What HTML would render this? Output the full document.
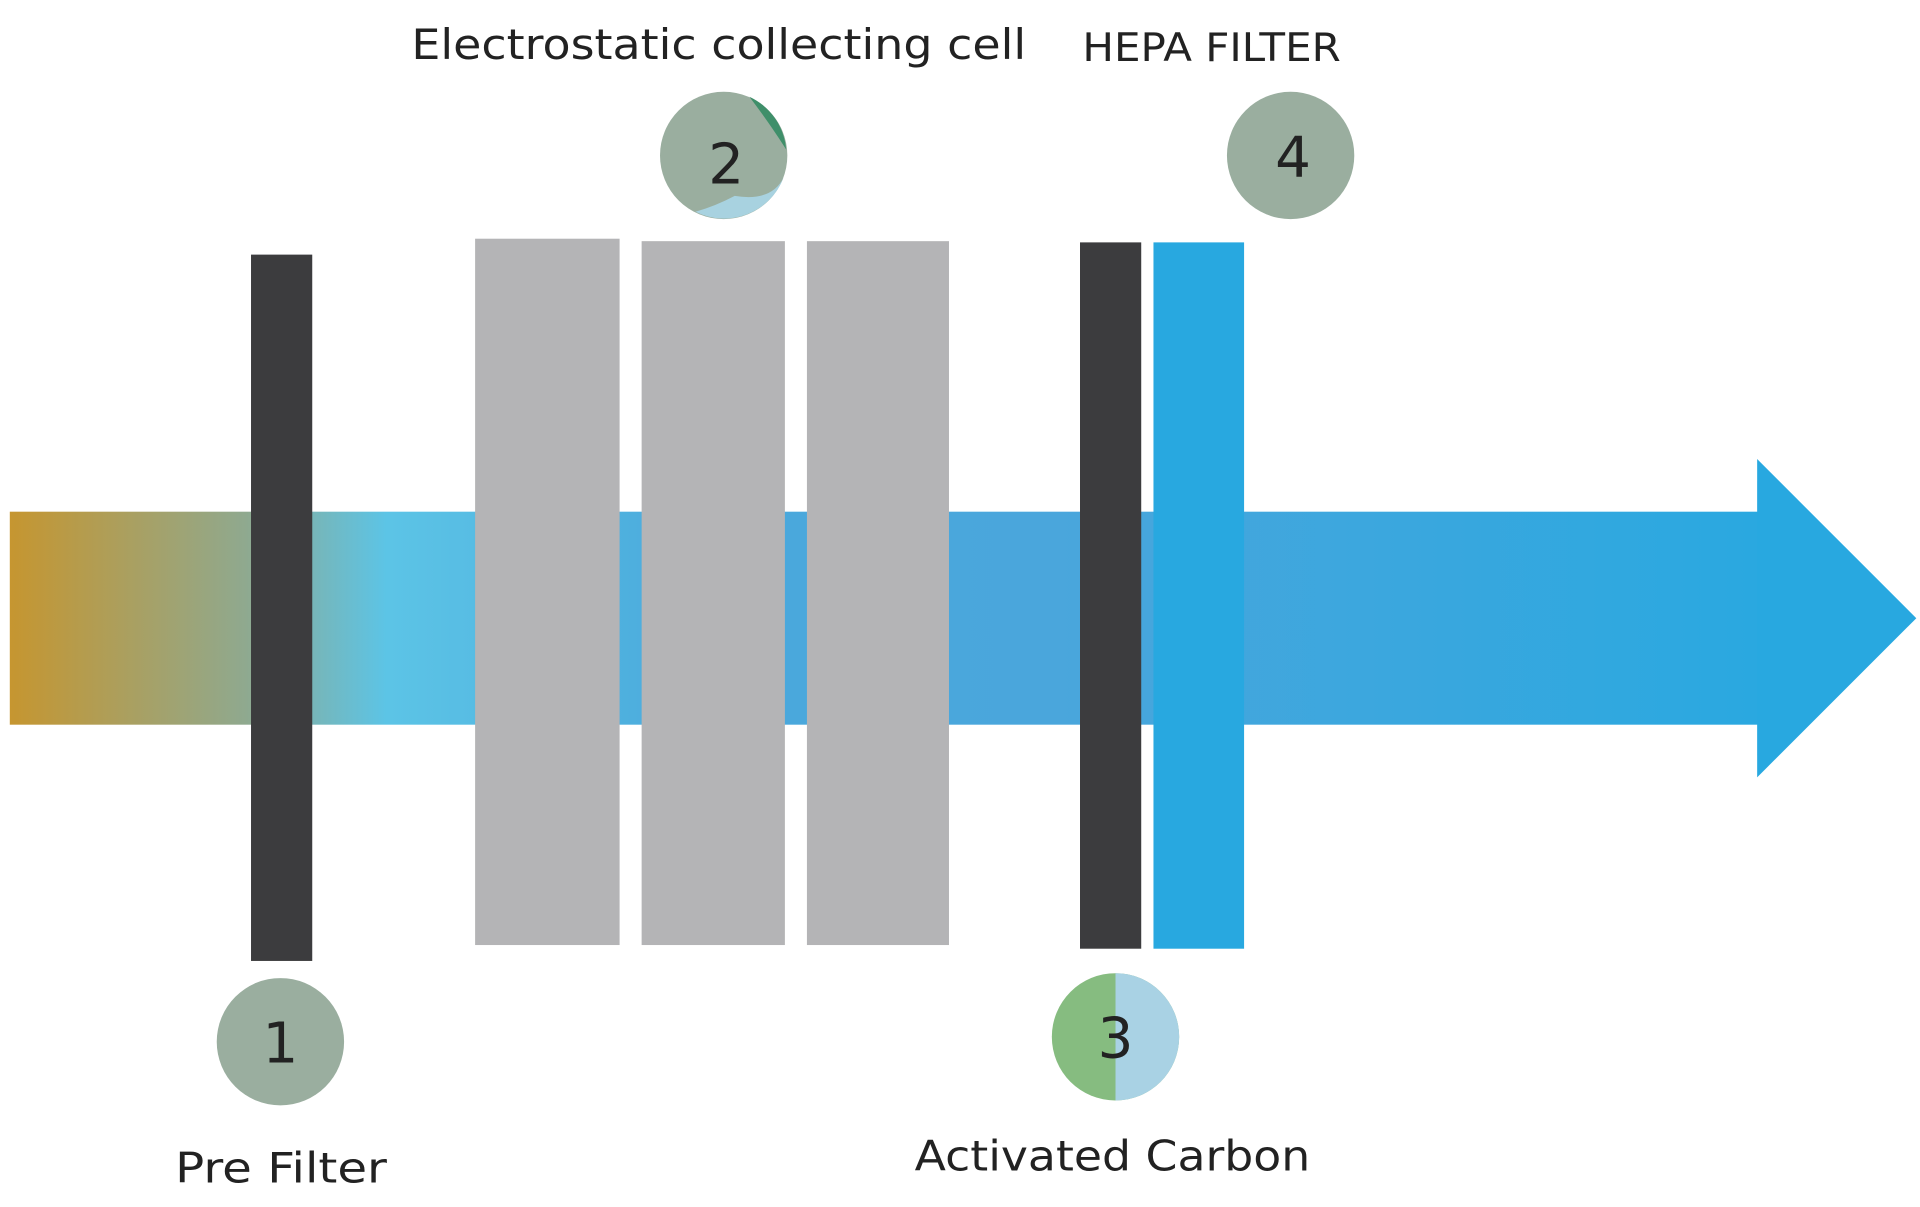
<!DOCTYPE html>
<html><head><meta charset="utf-8"><style>
html,body{margin:0;padding:0;background:#fff;}
svg{display:block;}
text{font-family:"DejaVu Sans","Liberation Sans",sans-serif;fill:#222;}
</style></head><body>
<svg width="1920" height="1207" viewBox="0 0 1568 986" preserveAspectRatio="none">
<defs>
<linearGradient id="band" x1="0" x2="1435" gradientUnits="userSpaceOnUse">
<stop offset="0" stop-color="#c8952c"/>
<stop offset="0.14" stop-color="#8fa98f"/>
<stop offset="0.22" stop-color="#5cc4e6"/>
<stop offset="0.4" stop-color="#4aa9dc"/>
<stop offset="0.6" stop-color="#4aa6dc"/>
<stop offset="1" stop-color="#2aa8e0"/>
</linearGradient>
</defs>
<rect x="8" y="418" width="1430" height="174" fill="url(#band)"/>
<polygon points="1435,375 1565,505 1435,635" fill="#28a8e0"/>
<rect x="205" y="208" width="50" height="577" fill="#3c3c3e"/>
<rect x="388" y="195" width="118" height="577" fill="#b4b4b6"/>
<rect x="524" y="197" width="117" height="575" fill="#b4b4b6"/>
<rect x="659" y="197" width="116" height="575" fill="#b4b4b6"/>
<rect x="882" y="198" width="50" height="577" fill="#3c3c3e"/>
<rect x="942" y="198" width="74" height="577" fill="#28a8e0"/>
<circle cx="229" cy="851" r="52" fill="#9aae9f"/>
<circle cx="591" cy="127" r="52" fill="#9aae9f"/>
<path d="M612,79 A52,52 0 0 1 642,122 Q628,100 612,79 Z" fill="#3f8f6a"/>
<path d="M568,173 A52,52 0 0 0 640,145 Q630,165 600,160 Q585,168 568,173 Z" fill="#a8d2e0"/>
<circle cx="911" cy="847" r="52" fill="#86bc80"/>
<path d="M911,795 A52,52 0 0 1 911,899 Z" fill="#a9d2e4"/>
<circle cx="1054" cy="127" r="52" fill="#9aae9f"/>
<text x="229" y="868" font-size="46" text-anchor="middle">1</text>
<text x="593" y="150" font-size="46" text-anchor="middle">2</text>
<text x="911" y="864" font-size="46" text-anchor="middle">3</text>
<text x="1056" y="144" font-size="46" text-anchor="middle">4</text>
<text x="336" y="48" font-size="34" textLength="502" lengthAdjust="spacingAndGlyphs">Electrostatic collecting cell</text>
<text x="884" y="50" font-size="32" textLength="211" lengthAdjust="spacingAndGlyphs">HEPA FILTER</text>
<text x="143" y="966" font-size="34" textLength="173" lengthAdjust="spacingAndGlyphs">Pre Filter</text>
<text x="747" y="956" font-size="34" textLength="323" lengthAdjust="spacingAndGlyphs">Activated Carbon</text>
</svg>
</body></html>
